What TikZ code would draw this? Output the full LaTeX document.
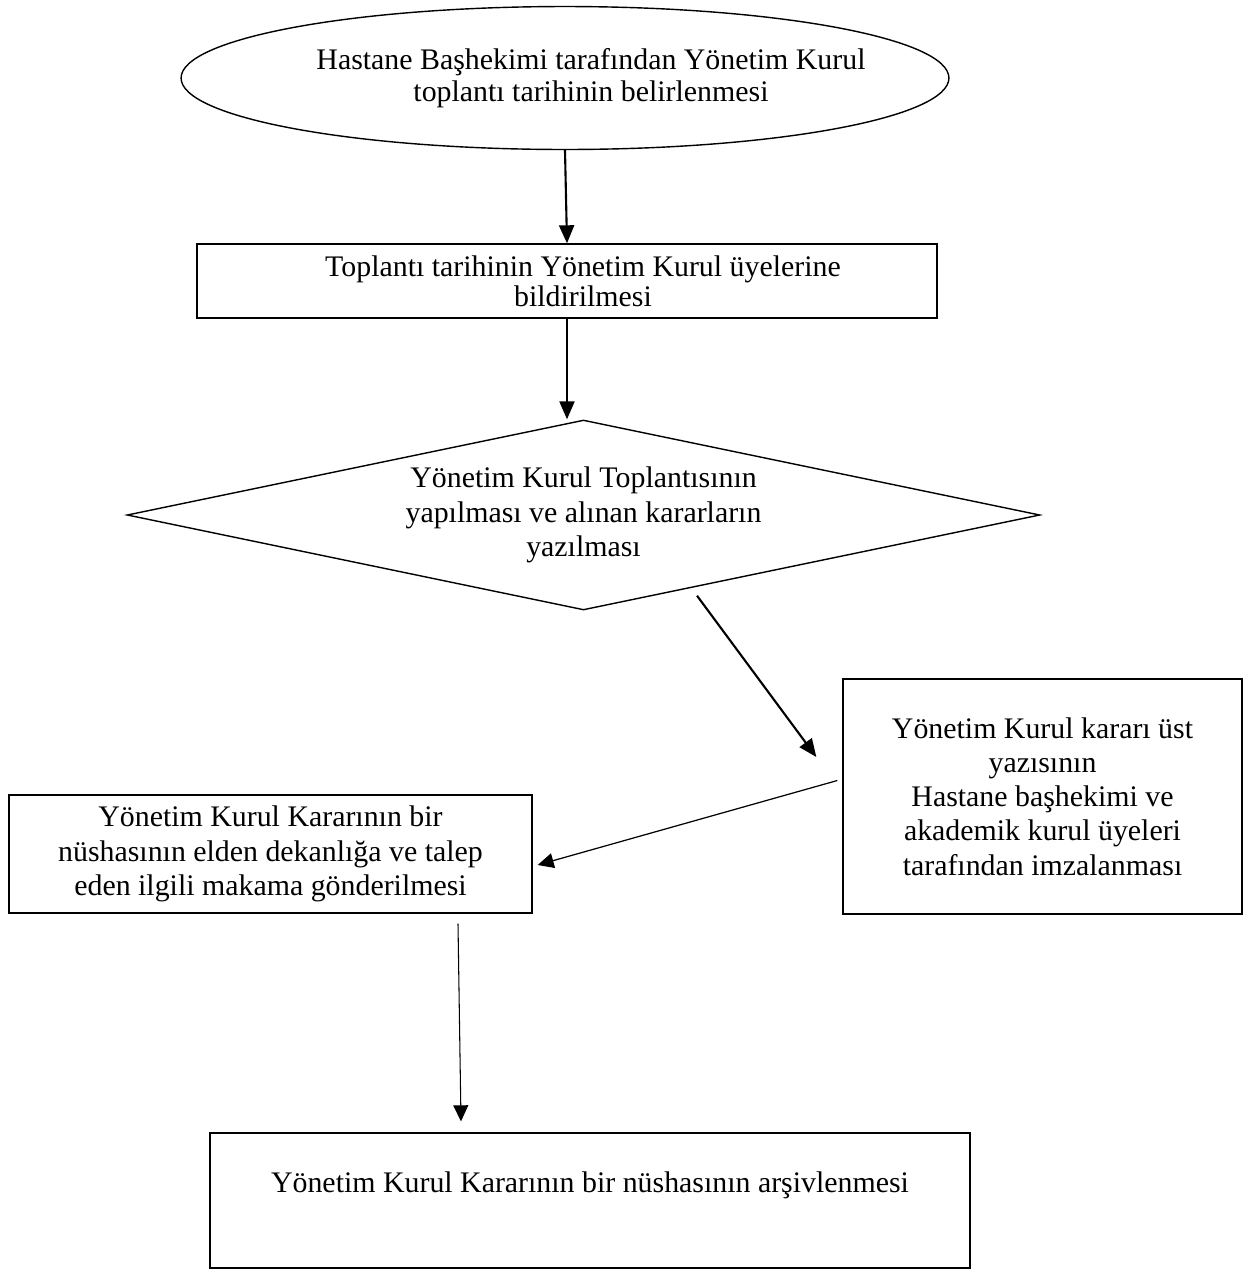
\documentclass[tikz,border=0pt]{standalone}
\usepackage{fontspec}
\setmainfont{Liberation Serif}
\usetikzlibrary{shapes.geometric,arrows.meta}

\newcommand{\stepfont}{\fontsize{17}{19.5}\selectfont}

\tikzset{
    oval/.style={ellipse, draw, line width=0.8pt},
    stepbox/.style={rectangle, draw, line width=0.8pt, align=center, inner sep=1pt, font=\stepfont},
    decision/.style={diamond, draw, line width=0.8pt, align=center, aspect=4.8, inner sep=0pt, font=\stepfont},
    flow/.style={-{Triangle[length=0.36cm,width=0.3cm]}, line width=1.2pt},
    thinflow/.style={-{Triangle[length=0.32cm,width=0.3cm]}, line width=0.7pt}
}

\begin{document}
\begin{tikzpicture}[x=0.02cm, y=-0.02cm]
    \useasboundingbox (0,0) rectangle (1251,1269);

    % Start of the process
    \node[oval, minimum width=15.36cm, minimum height=2.86cm,
          label={[align=center, xshift=0.52cm, font=\fontsize{17}{18.2}\selectfont]center:Hastane Başhekimi tarafından Yönetim Kurul\\toplantı tarihinin belirlenmesi}]
        (start) at (565,78) {};

    % Steps
    \node[stepbox, minimum width=14.8cm, minimum height=1.48cm,
          font=\fontsize{17}{17}\selectfont] (notify) at (567,281)
        {\hspace*{0.64cm}Toplantı tarihinin Yönetim Kurul üyelerine\\\hspace*{0.64cm}bildirilmesi};

    \node[decision, minimum width=18.26cm, minimum height=3.8cm] (meeting) at (583.5,515)
        {Yönetim Kurul Toplantısının\\yapılması ve alınan kararların\\yazılması};

    \node[stepbox, minimum width=7.98cm, minimum height=4.7cm] (sign) at (1042.5,796.5)
        {Yönetim Kurul kararı üst\\yazısının\\Hastane başhekimi ve\\akademik kurul üyeleri\\tarafından imzalanması};

    \node[stepbox, minimum width=10.46cm, minimum height=2.36cm] (send) at (270.5,854)
        {Yönetim Kurul Kararının bir\\nüshasının elden dekanlığa ve talep\\eden ilgili makama gönderilmesi};

    \node[stepbox, minimum width=15.2cm, minimum height=2.7cm,
          label={[yshift=0.3cm, font=\stepfont]center:Yönetim Kurul Kararının bir nüshasının arşivlenmesi}]
        (archive) at (590,1200.5) {};

    % Connections
    \draw[flow] (start.south) -- (notify.north);
    \draw[flow] (notify.south) -- (notify.south |- meeting.north);
    \draw[flow] ([shift={(113.5,-15)}]meeting.south) -- ([shift={(-26,-39.5)}]sign.west);
    \draw[thinflow] ([shift={(-5,-16)}]sign.west) -- ([shift={(5,11)}]send.east);
    \draw[thinflow, line width=0.6pt] ([shift={(187.5,10)}]send.south) -- ([shift={(-129,-11)}]archive.north);
\end{tikzpicture}
\end{document}
